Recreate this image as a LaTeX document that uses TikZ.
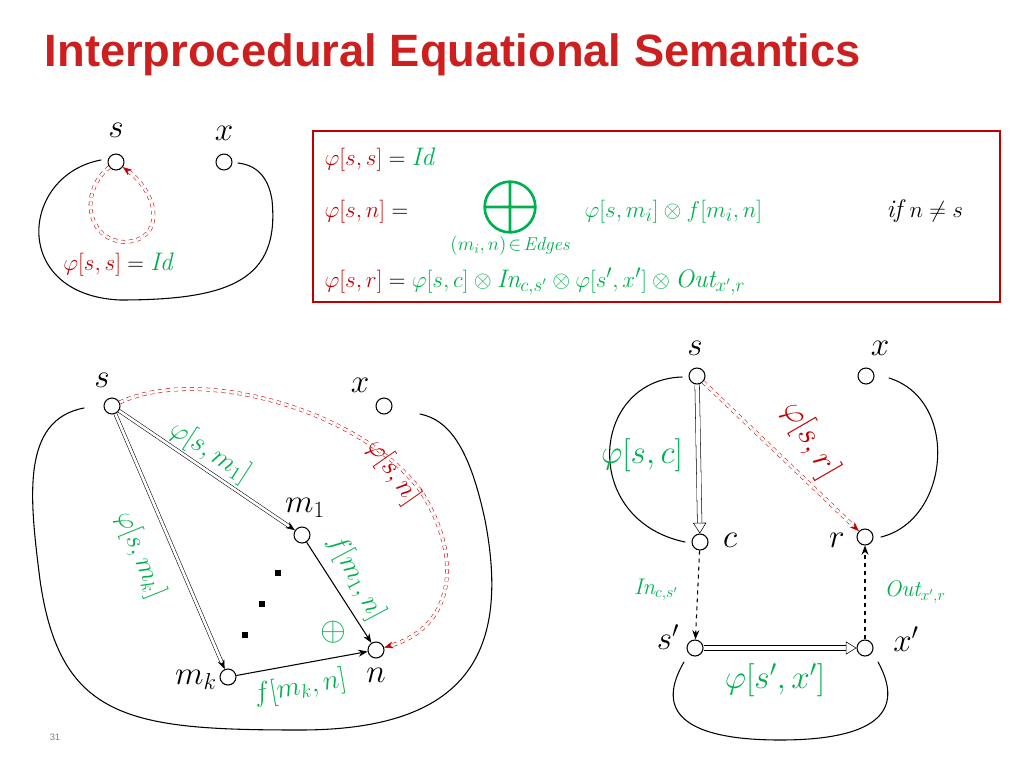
\documentclass[tikz,border=0pt]{standalone}
\usepackage{amsmath}
\usepackage{fontspec}
\usepackage{tikz}
\usetikzlibrary{calc,arrows.meta}
\newfontfamily\titlefont{Liberation Sans}
\definecolor{slidered}{RGB}{192,0,0}
\definecolor{slidegreen}{RGB}{0,176,80}
\definecolor{titlered}{RGB}{204,32,32}
\tikzset{
  vert/.style={circle,draw,thick,minimum size=12pt,inner sep=0pt},
  blob/.style={thick,line cap=round},
  path2/.style={double,double distance=2pt,thin,-{Stealth[length=7pt]}},
  reddash/.style={slidered,dashed,double,double distance=2pt,thin,-{Stealth[length=7pt]}},
  hollow/.style={double,double distance=3pt,thin,-{Triangle[open,length=8pt,width=10pt]}},
  lbl/.style={font=\fontsize{26}{28}\selectfont},
  grn/.style={text=slidegreen,font=\fontsize{20}{22}\selectfont},
}
\begin{document}
\begin{tikzpicture}[x=0.75pt,y=-0.75pt]
\useasboundingbox (0,0) rectangle (1024,768);
\node[anchor=west,text=titlered,font=\titlefont\bfseries\fontsize{34}{38}\selectfont] (title) at (40,55) {Interprocedural Equational Semantics};
% top left
\node[vert] (s0) at (116,162) {};
\node[vert] (x0) at (224,162) {};
\node[lbl] at (116,130) {$s$};
\node[lbl] at (224,133) {$x$};
\draw[blob] (101,160) .. controls (20,175) and (10,295) .. (120,300) .. controls (230,300) and (280,280) .. (272,200) .. controls (268,175) and (255,165) .. (238,163);
\draw[reddash] (s0) .. controls (80,190) and (85,240) .. (125,242) .. controls (165,240) and (160,195) .. (s0);
\node[font=\fontsize{19}{21}\selectfont] at (118,265) {$\color{slidered}\varphi[s,s]\color{black}=\color{slidegreen}\mathit{Id}$};
% equation box
\draw[slidered,thick] (313,131) rectangle (1000,302);
\begin{scope}[every node/.style={anchor=base west,font=\fontsize{19}{21}\selectfont}]
\node (e1) at (320,165) {$\color{slidered}\varphi[s,s]\color{black}=\color{slidegreen}\mathit{Id}$};
\node (e2) at (320,217) {$\color{slidered}\varphi[s,n]\color{black}=$};
\node (e3) at (580,217) {$\color{slidegreen}\varphi[s,m_i]\otimes f[m_i,n]$};
\node (e4) at (882,217) {$\mathit{if}\ n\neq s$};
\node (e5) at (320,287) {$\color{slidered}\varphi[s,r]\color{black}=\color{slidegreen}\varphi[s,c]\otimes \mathit{In}_{c,s'}\otimes\varphi[s',x']\otimes \mathit{Out}_{x',r}$};
\end{scope}
\draw[slidegreen,line width=2pt] (510,207) circle (19pt) (485,207) -- (535,207) (510,182) -- (510,232);
\node[text=slidegreen,font=\fontsize{14}{16}\selectfont] (sub) at (510,246) {$(m_i,n)\!\in\!\mathit{Edges}$};
% bottom left
\node[vert] (s) at (112,406) {};
\node[vert] (x) at (384,406) {};
\node[vert] (m1) at (302,535) {};
\node[vert] (mk) at (228,677) {};
\node[vert] (n) at (376,650) {};
\node[lbl] at (102,380) {$s$};
\node[lbl] at (360,385) {$x$};
\node[lbl] at (305,508) {$m_1$};
\node[lbl] at (196,680) {$m_k$};
\node[lbl] at (376,675) {$n$};
\draw[blob] (84,408) .. controls (20,420) and (30,500) .. (40,580) .. controls (60,720) and (130,730) .. (300,730) .. controls (470,730) and (510,650) .. (485,520) .. controls (470,450) and (450,420) .. (420,414);
\draw[path2] (s) -- (m1);
\draw[path2] (s) -- (mk);
\draw[thick,-{Stealth[length=7pt]}] (m1) -- (n);
\draw[thick,-{Stealth[length=7pt]}] (mk) -- (n);
\draw[reddash] (s) .. controls (200,365) and (360,410) .. (420,490) .. controls (460,550) and (460,625) .. (n);
\node[grn,rotate=-33] at (210,452) {$\varphi[s,m_1]$};
\node[text=slidered,font=\fontsize{20}{22}\selectfont,rotate=-55] at (393,472) {$\varphi[s,n]$};
\node[grn,rotate=-68] at (140,555) {$\varphi[s,m_k]$};
\node[grn,rotate=-62] at (356,578) {$f[m_1,n]$};
\node[grn,rotate=10] at (300,688) {$f[m_k,n]$};
\foreach \p in {(278,573),(262,604),(245,635)}
  \fill \p ++(-3,-3) rectangle ++(6,6);
\node[text=slidegreen,font=\fontsize{24}{26}\selectfont] at (333,632) {$\oplus$};
% bottom right
\node[vert] (rs) at (697,376) {};
\node[vert] (rx) at (866,376) {};
\node[vert] (c) at (700,542) {};
\node[vert] (r) at (865,537) {};
\node[vert] (sp) at (695,648) {};
\node[vert] (xp) at (865,648) {};
\node[lbl] at (695,348) {$s$};
\node[lbl] at (880,348) {$x$};
\node[lbl] at (730,540) {$c$};
\node[lbl] at (837,540) {$r$};
\node[lbl] at (668,637) {$s'$};
\node[lbl] at (906,639) {$x'$};
\draw[blob] (682,377) .. controls (590,380) and (580,520) .. (685,542);
\draw[blob] (889,378) .. controls (960,400) and (950,520) .. (881,537);
\draw[blob] (684,662) .. controls (650,720) and (700,740) .. (780,740) .. controls (860,740) and (910,720) .. (878,662);
\draw[hollow] (rs) -- (c);
\draw[reddash] (rs) -- (r);
\draw[thick,dashed,-{Stealth[length=7pt]}] (c) -- (sp);
\draw[thick,dashed,-{Stealth[length=7pt]}] (xp) -- (r);
\draw[hollow] (sp) -- (xp);
\node[text=slidegreen,font=\fontsize{24}{26}\selectfont] at (642,455) {$\varphi[s,c]$};
\node[text=slidered,font=\fontsize{24}{26}\selectfont,rotate=-60] at (810,440) {$\varphi[s,r]$};
\node[grn,font=\fontsize{17}{19}\selectfont] at (656,590) {$\mathit{In}_{c,s'}$};
\node[grn,font=\fontsize{17}{19}\selectfont] at (915,592) {$\mathit{Out}_{x',r}$};
\node[text=slidegreen,font=\fontsize{24}{26}\selectfont] at (775,680) {$\varphi[s',x']$};
\node[text=gray,font=\titlefont\fontsize{7}{8}\selectfont] at (55,737) {31};
\end{tikzpicture}
\end{document}
